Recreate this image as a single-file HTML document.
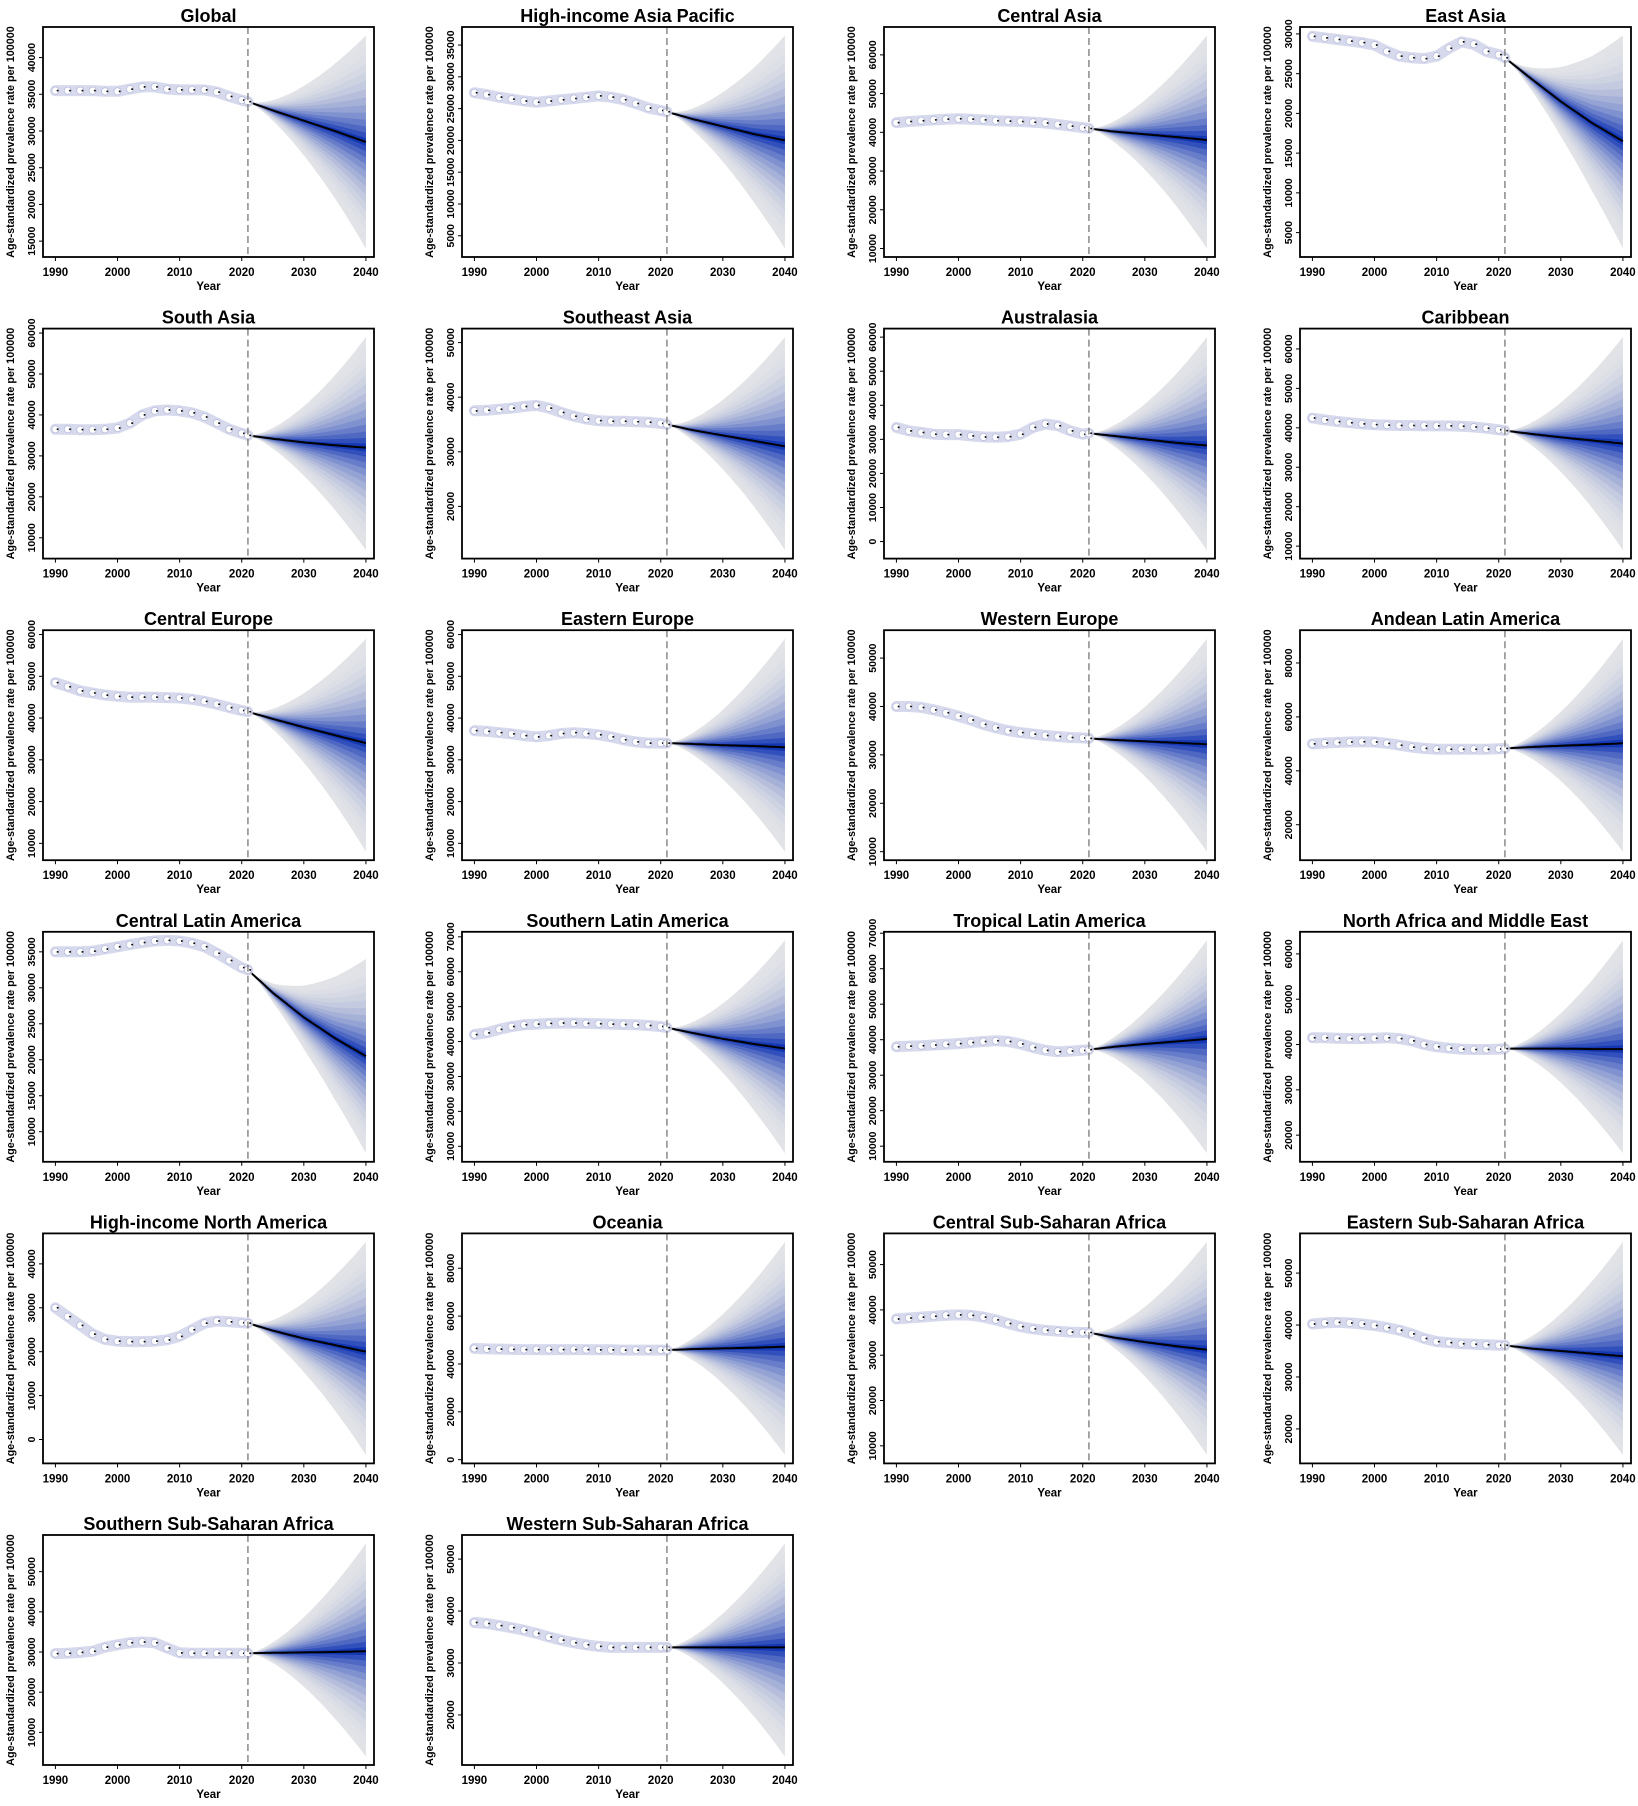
<!DOCTYPE html>
<html><head><meta charset="utf-8">
<style>
html,body{margin:0;padding:0;background:#fff;}
svg{display:block;font-family:"Liberation Sans",Arial,sans-serif;}
</style></head>
<body>
<svg id="chart" width="1638" height="1806" viewBox="0 0 1638 1806" xmlns="http://www.w3.org/2000/svg"></svg>
<script>
const titles = ["Global","High-income Asia Pacific","Central Asia","East Asia","South Asia","Southeast Asia","Australasia","Caribbean","Central Europe","Eastern Europe","Western Europe","Andean Latin America","Central Latin America","Southern Latin America","Tropical Latin America","North Africa and Middle East","High-income North America","Oceania","Central Sub-Saharan Africa","Eastern Sub-Saharan Africa","Southern Sub-Saharan Africa","Western Sub-Saharan Africa"];
const histYears = [1990,1992,1994,1996,1998,2000,2002,2004,2006,2008,2010,2012,2014,2016,2018,2020,2021];
const hist = [
[35500,35500,35500,35500,35400,35400,35700,36000,36000,35700,35600,35600,35600,35300,34700,34200,34000],
[27500,27200,26800,26500,26200,26000,26200,26400,26600,26800,27000,26800,26400,25800,25100,24700,24500],
[42500,42800,43000,43200,43400,43500,43400,43200,43000,42900,42800,42600,42400,42000,41600,41200,41000],
[29700,29500,29300,29100,28900,28600,27800,27200,27000,26900,27200,28200,29000,28700,27800,27400,27000],
[36500,36500,36400,36400,36500,36800,38000,40000,41000,41200,41000,40500,39500,38000,36500,35500,35000],
[37500,37600,37800,38000,38300,38500,38000,37200,36500,36000,35700,35600,35600,35500,35400,35200,35000],
[33500,32500,32000,31500,31400,31400,31000,30700,30600,30800,31500,33500,34500,34000,32500,31500,31800],
[42500,42000,41600,41300,41000,40800,40700,40600,40600,40500,40500,40500,40400,40200,39900,39500,39300],
[48500,47500,46500,46000,45500,45200,45000,45000,45000,44900,44800,44500,44000,43300,42500,41800,41500],
[37000,36800,36500,36200,35800,35500,35800,36300,36500,36300,36000,35500,34800,34300,34000,34000,34000],
[40000,40000,39800,39300,38700,38000,37200,36300,35600,35000,34600,34300,34000,33800,33600,33500,33400],
[50000,50300,50500,50700,50800,50700,50200,49500,48800,48300,48000,48000,48000,48000,48000,48200,48300],
[35000,35000,35000,35100,35400,35700,36000,36300,36500,36600,36500,36200,35700,34800,33800,32800,32500],
[42000,42500,43500,44300,44800,45000,45200,45300,45300,45200,45100,45000,44900,44800,44600,44300,44000],
[38000,38200,38300,38500,38700,38900,39200,39500,39700,39500,38800,37800,37000,36600,36800,37000,37200],
[41500,41500,41400,41300,41300,41400,41500,41300,40800,40000,39500,39200,39000,38900,38900,39000,39100],
[30000,28000,26000,24000,22800,22400,22300,22300,22400,22700,23500,25000,26500,27000,26800,26600,26500],
[46500,46300,46200,46100,46000,46000,46000,46000,46000,46000,45900,45900,45800,45800,45800,45800,45800],
[38000,38200,38400,38600,38800,38900,38800,38400,37800,37000,36300,35800,35500,35300,35100,35000,35000],
[40200,40400,40500,40400,40200,39900,39500,39000,38300,37400,36800,36600,36400,36300,36200,36100,36100],
[29600,29700,29900,30200,31200,31800,32300,32500,32300,31000,29800,29700,29700,29700,29700,29700,29700],
[37800,37600,37200,36800,36300,35700,35000,34400,33900,33500,33200,33000,33000,33000,33000,33000,33000]];
const fcYears = [2025,2030,2035,2040];
const fcMean = [
[32800,31400,30000,28500],[23400,22200,21000,20000],[40200,39500,38800,38000],[24500,21500,18800,16500],
[34200,33300,32600,32000],[34000,33000,32000,31000],[31000,30000,29000,28200],[38500,37600,36800,36000],
[39800,37800,35900,34000],[33800,33500,33300,33000],[33100,32800,32500,32200],[48800,49300,49700,50200],
[29300,25900,23000,20500],[42500,40800,39300,38000],[38000,38800,39500,40200],[39100,39100,39000,39000],
[24800,23000,21500,20000],[46200,46500,46800,47200],[33900,32900,32000,31200],[35500,35000,34500,34000],
[29800,29900,30000,30200],[33000,33000,33000,33000]];
const fcHi = [43000,36500,65000,29800,59000,51000,60000,63000,59000,59000,54000,89000,34000,69000,68000,63000,45000,91000,55000,56000,57000,53000];
const fcLo = [14000,3000,10000,3000,7000,12000,-2500,9000,8000,8000,10000,10000,7000,8000,8000,16000,-3500,2000,8000,15000,4000,12000];
const yStep = [5000,5000,10000,5000,10000,10000,10000,10000,10000,10000,10000,20000,5000,10000,10000,10000,10000,20000,10000,10000,10000,10000];
const xTicks = [1990,2000,2010,2020,2030,2040];

const NS="http://www.w3.org/2000/svg";
const svg=document.getElementById('chart');
function mk(tag,attrs,parent){const e=document.createElementNS(NS,tag);for(const k in attrs)e.setAttribute(k,attrs[k]);(parent||svg).appendChild(e);return e;}
const colLeft=[43,462,884,1300], boxW=331, boxH=230, rowTop=27, rowPitch=301.6;
const NL=14;
function lerp(a,b,t){return Math.round(a+(b-a)*t);}
function layerColor(k){
  const t=k/(NL-1);
  const c0=[226,227,231], c1=[20,55,180];
  const tt=Math.pow(t,2.0);
  return `rgb(${lerp(c0[0],c1[0],tt)},${lerp(c0[1],c1[1],tt)},${lerp(c0[2],c1[2],tt)})`;
}

titles.forEach((title,i)=>{
  const col=i%4,row=Math.floor(i/4);
  const L=colLeft[col], T=rowTop+row*rowPitch, R=L+boxW, B=T+boxH;
  const g=mk('g',{});
  
  
  const h=hist[i], m=fcMean[i];
  let lo=Math.min(fcLo[i],...h), hi=Math.max(fcHi[i],...h);
  const ext=(hi-lo)*0.04; lo-=ext; hi+=ext;
  const x0=1990-2, x1=2040+1.3;
  const X=v=>L+(v-x0)/(x1-x0)*boxW;
  const Y=v=>B-(v-lo)/(hi-lo)*boxH;
  const fYears=[2021].concat(fcYears), fVals=[h[h.length-1]].concat(m);
  const meanAt=t=>{for(let j=0;j<fYears.length-1;j++){if(t<=fYears[j+1]){const f=(t-fYears[j])/(fYears[j+1]-fYears[j]);return fVals[j]+(fVals[j+1]-fVals[j])*f;}}return fVals[fVals.length-1];};
  const up=fcHi[i]-m[m.length-1], dn=m[m.length-1]-fcLo[i];
  const steps=[];for(let t=2021;t<=2040.001;t+=0.5)steps.push(t);
  for(let k=0;k<NL;k++){
    const frac=Math.pow(1-k/NL,1.25);
    const top=steps.map(t=>{const s=Math.pow((t-2021)/19,1.5);return X(t).toFixed(1)+','+Y(meanAt(t)+up*frac*s).toFixed(1);});
    const bot=steps.slice().reverse().map(t=>{const s=Math.pow((t-2021)/19,1.5);return X(t).toFixed(1)+','+Y(meanAt(t)-dn*frac*s).toFixed(1);});
    const p=mk('polygon',{points:top.concat(bot).join(' '),fill:layerColor(k)},g);
    
    
  }
  const ml=mk('polyline',{points:steps.map(t=>X(t).toFixed(1)+','+Y(meanAt(t)).toFixed(1)).join(' '),fill:'none',stroke:'#000','stroke-width':2},g);
  
  
  const hpts=histYears.map((yr,j)=>X(yr).toFixed(1)+','+Y(h[j]).toFixed(1)).join(' ');
  const halo=mk('polyline',{points:hpts,fill:'none',stroke:'#cdd0e8','stroke-width':11,'stroke-linecap':'round','stroke-linejoin':'round',opacity:0.8},g);
  
  
  histYears.forEach((yr,j)=>{
    const c=mk('circle',{cx:X(yr),cy:Y(h[j]),r:3.6,fill:'#fff',stroke:'#b8bcdc','stroke-width':0.8},g);
    
    
    const d=mk('circle',{cx:X(yr)+2.2,cy:Y(h[j]),r:1,fill:'#111'},g);
    
    
  });
  const dl=mk('line',{x1:X(2021),x2:X(2021),y1:T,y2:B,stroke:'#777','stroke-width':1.3,'stroke-dasharray':'7,4'},g);
  
  
  const bx=mk('rect',{x:L,y:T,width:boxW,height:boxH,fill:'none',stroke:'#000','stroke-width':1.8},g);
  
  
  xTicks.forEach(v=>{
    const tk=mk('line',{x1:X(v),x2:X(v),y1:B,y2:B+4,stroke:'#000','stroke-width':1},g);
    
    
    const tl=mk('text',{x:X(v),y:B+19,'text-anchor':'middle','font-size':11.5,'font-weight':'bold'},g);
    tl.textContent=v;
    
    
  });
  const xt=mk('text',{x:(L+R)/2,y:B+33,'text-anchor':'middle','font-size':11.5,'font-weight':'bold'},g);
  xt.textContent='Year';
  
  
  const st=yStep[i];
  for(let v=Math.ceil(lo/st)*st; v<=hi; v+=st){
    const yy=Y(v);
    const tk=mk('line',{x1:L-4,x2:L,y1:yy,y2:yy,stroke:'#000','stroke-width':1},g);
    
    
    const tl=mk('text',{x:L-8,y:yy,'text-anchor':'middle','font-size':10.5,'font-weight':'bold',transform:`rotate(-90 ${L-8} ${yy})`},g);
    tl.textContent=v;
    
    
  }
  const yl=mk('text',{x:L-29,y:(T+B)/2,'text-anchor':'middle','font-size':10.8,'font-weight':'bold',transform:`rotate(-90 ${L-29} ${(T+B)/2})`},g);
  yl.textContent='Age-standardized prevalence rate  per 100000';
  
  
  const tt=mk('text',{x:(L+R)/2,y:T-5,'text-anchor':'middle','font-size':18,'font-weight':'bold'},g);
  tt.textContent=title;
  
  
});
</script>
</body></html>
